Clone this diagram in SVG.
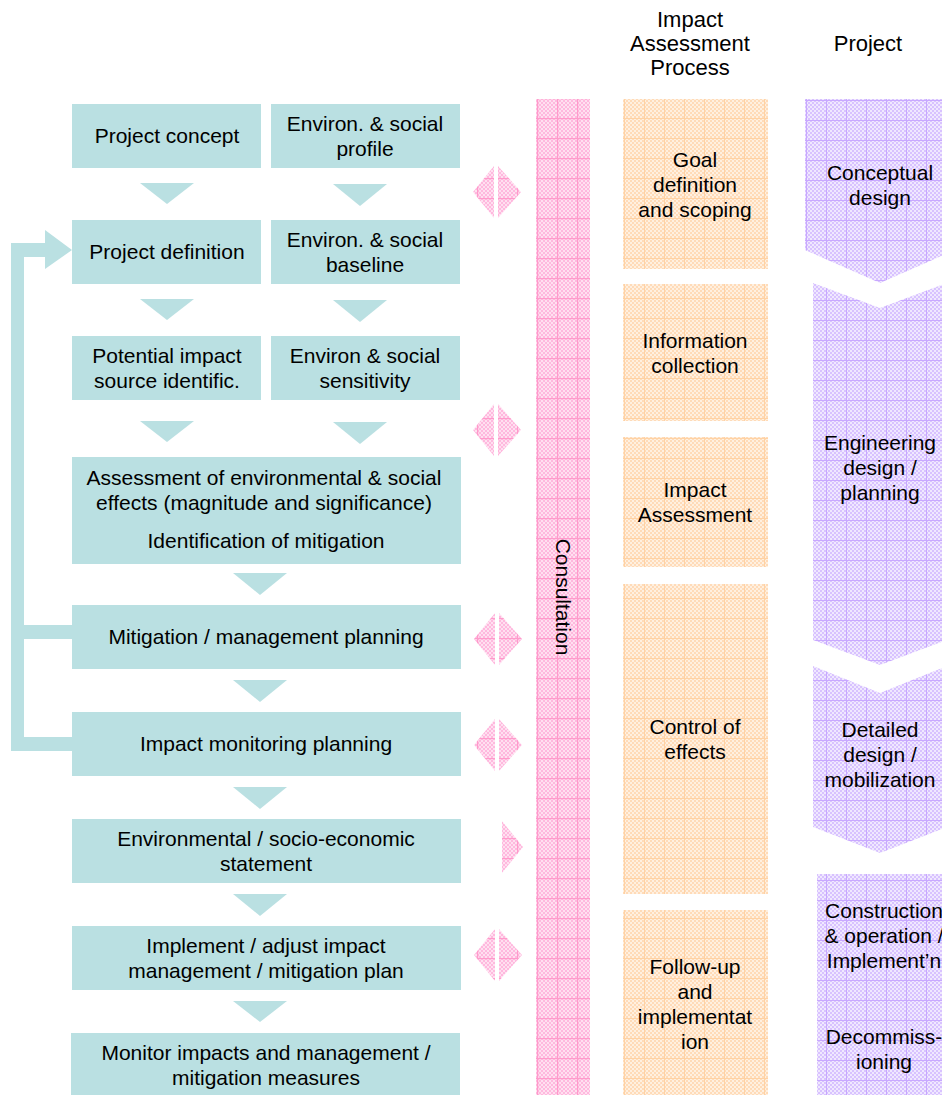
<svg xmlns="http://www.w3.org/2000/svg" width="942" height="1095" viewBox="0 0 942 1095">
<style>
text{font-family:"Liberation Sans",Arial,sans-serif;font-size:21px;fill:#000;text-anchor:middle}
.hdr{font-size:22px}
.teal{fill:#bae0e2}
.pink{fill:url(#pinkGrid)}
.orange{fill:url(#orangeGrid)}
.purple{fill:url(#purpleGrid)}
</style>
<defs>
<pattern id="pinkDots" patternUnits="userSpaceOnUse" width="4" height="4"><rect width="4" height="4" fill="#ffe0f0"/><rect width="2" height="2" fill="#ffb8de"/><rect x="2" y="2" width="2" height="2" fill="#ffb8de"/></pattern>
<pattern id="pinkGrid" patternUnits="userSpaceOnUse" width="20" height="20" x="537" y="98"><rect width="20" height="20" fill="url(#pinkDots)"/><rect width="20" height="1.2" fill="#ff9acb"/><rect width="1.2" height="20" fill="#ff9acb"/></pattern>
<pattern id="orangeDots" patternUnits="userSpaceOnUse" width="4" height="4"><rect width="4" height="4" fill="#fff0e0"/><rect width="2" height="2" fill="#ffdbb8"/><rect x="2" y="2" width="2" height="2" fill="#ffdbb8"/></pattern>
<pattern id="orangeGrid" patternUnits="userSpaceOnUse" width="20" height="20" x="624" y="98"><rect width="20" height="20" fill="url(#orangeDots)"/><rect width="20" height="1" fill="#ffd2a4"/><rect width="1" height="20" fill="#ffd2a4"/></pattern>
<pattern id="purpleDots" patternUnits="userSpaceOnUse" width="4" height="4"><rect width="4" height="4" fill="#f0e8ff"/><rect width="2" height="2" fill="#d8c2ff"/><rect x="2" y="2" width="2" height="2" fill="#d8c2ff"/></pattern>
<pattern id="purpleGrid" patternUnits="userSpaceOnUse" width="20" height="20" x="806" y="100"><rect width="20" height="20" fill="url(#purpleDots)"/><rect width="20" height="1" fill="#c8a8ff"/><rect width="1" height="20" fill="#c8a8ff"/></pattern>
</defs>
<rect width="942" height="1095" fill="#fff"/>

<g id="headers">
<text class="hdr" x="690" y="27">Impact</text>
<text class="hdr" x="690" y="51">Assessment</text>
<text class="hdr" x="690" y="75">Process</text>
<text class="hdr" x="868" y="51">Project</text>
</g>

<g id="connectors">
<path class="teal" d="M11,243 H45 V230 L72,250 L45,269 V257 H24 V625 H72 V639 H24 V737 H72 V751 H11 Z"/>
<g class="teal">
<polygon points="140,183 194,183 167,204"/>
<polygon points="333,184 387,184 360,206"/>
<polygon points="140,299 194,299 167,320"/>
<polygon points="333,300 387,300 360,322"/>
<polygon points="140,421 194,421 167,442"/>
<polygon points="333,422 387,422 360,444"/>
<polygon points="233,573 287,573 260,595"/>
<polygon points="233,680 287,680 260,702"/>
<polygon points="233,787 287,787 260,809"/>
<polygon points="233,894 287,894 260,916"/>
<polygon points="233,1001 287,1001 260,1022"/>
</g>
<g class="pink">
<polygon points="473,192 494,166 494,218"/><polygon points="498,166 498,218 521,192"/>
<polygon points="473,430 494,404 494,456"/><polygon points="498,404 498,456 521,430"/>
<polygon points="474,639 495,613 495,665"/><polygon points="499,613 499,665 522,639"/>
<polygon points="474,745 495,719 495,771"/><polygon points="499,719 499,771 522,745"/>
<polygon points="502,821 502,873 523,847"/>
<polygon points="474,955 495,929 495,981"/><polygon points="499,929 499,981 522,955"/>
</g>
</g>

<g id="n-project-concept"><rect class="teal" x="72" y="104" width="189" height="64"/><text x="167" y="143">Project concept</text></g>
<g id="n-profile"><rect class="teal" x="271" y="104" width="189" height="64"/><text x="365" y="131">Environ. &amp; social</text><text x="365" y="156">profile</text></g>
<g id="n-project-definition"><rect class="teal" x="72" y="220" width="189" height="64"/><text x="167" y="259">Project definition</text></g>
<g id="n-baseline"><rect class="teal" x="271" y="220" width="189" height="64"/><text x="365" y="247">Environ. &amp; social</text><text x="365" y="272">baseline</text></g>
<g id="n-potential"><rect class="teal" x="72" y="336" width="189" height="64"/><text x="167" y="363">Potential impact</text><text x="167" y="388">source identific.</text></g>
<g id="n-sensitivity"><rect class="teal" x="271" y="336" width="189" height="64"/><text x="365" y="363">Environ &amp; social</text><text x="365" y="388">sensitivity</text></g>
<g id="n-assessment"><rect class="teal" x="72" y="457" width="389" height="107"/><text x="264" y="485">Assessment of environmental &amp; social</text><text x="264" y="510">effects (magnitude and significance)</text><text x="266" y="548">Identification of mitigation</text></g>
<g id="n-mitigation"><rect class="teal" x="72" y="605" width="389" height="64"/><text x="266" y="644">Mitigation / management planning</text></g>
<g id="n-monitoring-planning"><rect class="teal" x="72" y="712" width="389" height="64"/><text x="266" y="751">Impact monitoring planning</text></g>
<g id="n-statement"><rect class="teal" x="72" y="819" width="389" height="64"/><text x="266" y="846">Environmental / socio-economic</text><text x="266" y="871">statement</text></g>
<g id="n-implement"><rect class="teal" x="72" y="926" width="389" height="64"/><text x="266" y="953">Implement / adjust impact</text><text x="266" y="978">management / mitigation plan</text></g>
<g id="n-monitor"><rect class="teal" x="71" y="1033" width="389" height="62"/><text x="266" y="1060">Monitor impacts and management /</text><text x="266" y="1085">mitigation measures</text></g>

<g id="n-consultation"><rect class="pink" x="536" y="99" width="54" height="996"/><text transform="translate(556,597) rotate(90)">Consultation</text></g>

<g id="n-goal"><rect class="orange" x="623" y="99" width="145" height="170"/><text x="695" y="167">Goal</text><text x="695" y="192">definition</text><text x="695" y="217">and scoping</text></g>
<g id="n-info"><rect class="orange" x="623" y="284" width="145" height="137"/><text x="695" y="348">Information</text><text x="695" y="373">collection</text></g>
<g id="n-impact"><rect class="orange" x="623" y="437" width="145" height="130"/><text x="695" y="497">Impact</text><text x="695" y="522">Assessment</text></g>
<g id="n-control"><rect class="orange" x="623" y="584" width="145" height="310"/><text x="695" y="734">Control of</text><text x="695" y="759">effects</text></g>
<g id="n-followup"><rect class="orange" x="623" y="910" width="145" height="185"/><text x="695" y="974">Follow-up</text><text x="695" y="999">and</text><text x="695" y="1024">implementat</text><text x="695" y="1049">ion</text></g>

<g id="n-conceptual"><polygon class="purple" points="805,99 955,99 955,250 880,283 805,250"/><text x="880" y="180">Conceptual</text><text x="880" y="205">design</text></g>
<g id="n-engineering"><polygon class="purple" points="813,283 880,308 947,283 947,640 880,665 813,640"/><text x="880" y="450">Engineering</text><text x="880" y="475">design /</text><text x="880" y="500">planning</text></g>
<g id="n-detailed"><polygon class="purple" points="813,666 880,693 947,666 947,827 880,853 813,827"/><text x="880" y="737">Detailed</text><text x="880" y="762">design /</text><text x="880" y="787">mobilization</text></g>
<g id="n-construction"><rect class="purple" x="817" y="874" width="130" height="221"/><text x="884" y="918">Construction</text><text x="884" y="943">&amp; operation /</text><text x="884" y="968">Implement’n</text><text x="884" y="1044">Decommiss-</text><text x="884" y="1069">ioning</text></g>
</svg>
